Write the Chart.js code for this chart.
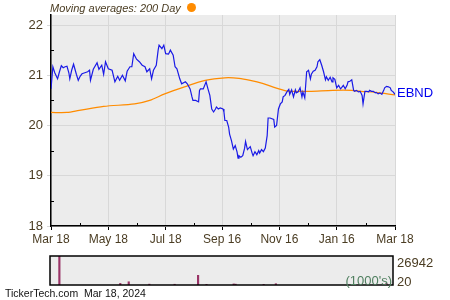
<!DOCTYPE html>
<html>
<head>
<meta charset="utf-8">
<script src="https://cdn.jsdelivr.net/npm/chart.js@4.4.1/dist/chart.umd.min.js"></script>
<style>
  body { margin: 0; background: #fff; font-family: "Liberation Sans", Arial, sans-serif; }
  #wrap { position: relative; width: 450px; height: 300px; }
  #mainChart { position: absolute; left: 0; top: 0; }
  #volChart { position: absolute; left: 0; top: 250px; }
  .title { position: absolute; left: 50px; top: 2px; font-size: 11px; font-style: italic; color: #4a3c22; }
  .dot { position: absolute; left: 187px; top: 3px; width: 9px; height: 9px; border-radius: 50%; background: #ff8c00; }
  .footer { position: absolute; left: 5px; top: 287px; font-size: 10.5px; color: #111; }
</style>
</head>
<body>
<div id="wrap">
  <canvas id="mainChart" width="450" height="250"></canvas>
  <canvas id="volChart" width="450" height="50"></canvas>
  <div class="title">Moving averages: 200 Day</div>
  <div class="dot"></div>
  <div class="footer">TickerTech.com&nbsp; Mar 18, 2024</div>
</div>
<script>
// x positions are calendar days since Mar 18
const tickDays = [0, 61, 122, 182, 243, 304, 366];
const tickLabels = ['Mar 18', 'May 18', 'Jul 18', 'Sep 16', 'Nov 16', 'Jan 16', 'Mar 18'];
const yTicks = [18, 19, 20, 21, 22];

const priceDays = [
  0,2,4,7,9,11,13,15,17,19,
  20,22,24,27,29,31,33,36,39,41,
  42,45,49,51,54,56,58,61,65,68,
  71,73,76,79,81,84,86,88,91,94,
  97,100,102,105,107,109,112,114,115,118,
  120,122,125,127,130,132,134,137,139,143,
  145,148,150,151,154,157,158,159,162,165,
  167,169,171,173,175,176,178,180,183,184,
  185,187,189,190,192,194,196,198,199,200,
  202,204,206,207,209,212,214,215,217,219,
  221,222,224,226,228,230,231,233,237,238,
  240,242,244,246,247,249,251,253,254,256,
  258,260,261,263,265,267,268,270,272,274,
  276,277,279,281,283,284,286,288,290,292,
  293,295,297,299,300,302,304,306,308,309,
  311,313,315,316,318,320,322,323,325,327,
  329,331,332,334,336,338,339,341,343,345,
  346,348,350,352,354,355,357,359,361,362,
  364,366
];
const priceVals = [
  20.73,21.17,21.05,20.93,21.07,21.19,21.15,21.17,21.18,21.05,
  20.93,21.10,21.22,21.02,20.90,20.98,21.03,21.05,21.07,21.10,
  20.90,21.12,21.25,21.12,21.20,21.02,21.27,21.13,21.10,20.87,
  20.98,20.90,21.00,20.89,21.08,21.17,21.17,21.43,21.32,21.27,
  21.20,21.17,21.07,21.13,20.93,21.10,21.20,21.50,21.60,21.53,
  21.60,21.43,21.42,21.50,21.40,21.17,21.13,20.93,20.83,20.87,
  20.83,20.73,20.57,20.50,20.50,20.47,20.70,20.73,20.73,20.87,
  20.73,20.60,20.33,20.27,20.33,20.37,20.33,20.35,20.33,20.27,
  20.10,20.10,19.97,19.83,19.70,19.53,19.60,19.47,19.35,19.40,
  19.37,19.40,19.55,19.68,19.52,19.58,19.45,19.40,19.48,19.42,
  19.50,19.45,19.52,19.48,19.55,19.80,20.15,20.15,20.12,19.97,
  20.00,20.33,20.43,20.47,20.57,20.60,20.67,20.72,20.62,20.71,
  20.57,20.71,20.65,20.67,20.75,20.57,20.67,20.55,21.07,21.10,
  20.93,21.02,21.08,21.10,21.17,21.27,21.31,21.20,21.07,20.91,
  20.97,20.90,20.96,20.87,20.95,20.92,20.75,20.80,20.73,20.75,
  20.80,20.73,20.80,20.87,20.88,20.91,20.70,20.68,20.70,20.67,
  20.68,20.60,20.43,20.68,20.68,20.67,20.70,20.68,20.68,20.65,
  20.66,20.63,20.65,20.62,20.70,20.75,20.78,20.77,20.75,20.70,
  20.67,20.62
];

const maDays = [0, 17, 30, 56, 89, 105, 121, 142, 164, 185, 200, 212, 225, 239, 250, 255, 275, 300, 320, 330, 345, 366];
const maVals = [20.26, 20.26, 20.3, 20.38, 20.43, 20.5, 20.63, 20.77, 20.9, 20.95, 20.94, 20.9, 20.84, 20.75, 20.69, 20.68, 20.68, 20.7, 20.7, 20.68, 20.66, 20.61];

// volume in thousands
const volDays = [10, 75, 84, 106, 133, 158, 167, 196, 198, 228, 241, 359];
const volVals = [26942, 1500, 3000, 800, 700, 9000, 600, 1000, 800, 600, 1200, 1500];
const volMin = 20;

const tickColor = '#4a3c22';
const symbol = 'EBND';

const plotBg = {
    id: 'plotBg',
    beforeDraw(chart) {
        const a = chart.chartArea, c = chart.ctx;
        c.save();
        c.fillStyle = '#ececec';
        c.fillRect(a.left, a.top, a.right - a.left, a.bottom - a.top);
        c.restore();
    }
};

// small inside ticks between the labelled ones, plus the symbol label
const mainExtras = {
    id: 'mainExtras',
    afterDraw(chart) {
        const c = chart.ctx, x = chart.scales.x, y = chart.scales.y, a = chart.chartArea;
        c.save();
        c.strokeStyle = '#000';
        c.lineWidth = 1;
        yTicks.slice(0, -1).forEach(v => {
            const py = Math.round(y.getPixelForValue(v + 0.5)) + 0.5;
            c.beginPath(); c.moveTo(a.left, py); c.lineTo(a.left + 3, py); c.stroke();
        });
        for (let i = 0; i < tickDays.length - 1; i++) {
            const px = Math.round(x.getPixelForValue((tickDays[i] + tickDays[i + 1]) / 2)) + 0.5;
            c.beginPath(); c.moveTo(px, a.bottom); c.lineTo(px, a.bottom - 3); c.stroke();
        }
        const last = priceVals[priceVals.length - 1];
        c.fillStyle = '#0000ee';
        c.font = '13px "Liberation Sans", Arial, sans-serif';
        c.textBaseline = 'middle';
        c.fillText(symbol, a.right + 2, y.getPixelForValue(last) - 1);
        c.restore();
    }
};

new Chart(document.getElementById('mainChart'), {
    type: 'line',
    data: {
        datasets: [{
            data: priceDays.map((d, i) => ({ x: d, y: priceVals[i] })),
            borderColor: '#1a1ae6',
            borderWidth: 1.2,
            pointRadius: 0,
            tension: 0
        }, {
            data: maDays.map((d, i) => ({ x: d, y: maVals[i] })),
            borderColor: '#ff8c00',
            borderWidth: 1.2,
            pointRadius: 0,
            tension: 0.3
        }]
    },
    options: {
        responsive: false,
        animation: false,
        layout: { padding: { left: 0, right: 55, top: 15, bottom: 0 } },
        plugins: { legend: { display: false }, tooltip: { enabled: false } },
        scales: {
            x: {
                type: 'linear',
                min: 0,
                max: 366,
                afterBuildTicks: axis => { axis.ticks = tickDays.map(v => ({ value: v })); },
                afterFit: axis => { axis.height = 24; },
                ticks: {
                    autoSkip: false,
                    maxRotation: 0,
                    padding: 2,
                    color: tickColor,
                    font: { size: 12, family: '"Liberation Sans", Arial, sans-serif' },
                    callback: (v, i) => tickLabels[i]
                },
                grid: { color: '#d8d8d8', tickColor: '#000', tickLength: 4 },
                border: { color: '#000', width: 1.5 }
            },
            y: {
                min: 18,
                max: 22.2,
                afterBuildTicks: axis => { axis.ticks = yTicks.map(v => ({ value: v })); },
                afterFit: axis => { axis.width = 51; },
                ticks: {
                    padding: 4,
                    color: tickColor,
                    font: { size: 13, family: '"Liberation Sans", Arial, sans-serif' }
                },
                grid: { color: '#d8d8d8', tickColor: '#d8d8d8', tickLength: 4 },
                border: { color: '#000', width: 1.5 }
            }
        }
    },
    plugins: [plotBg, mainExtras]
});

const volExtras = {
    id: 'volExtras',
    afterDraw(chart) {
        const c = chart.ctx, a = chart.chartArea;
        c.save();
        c.strokeStyle = '#000';
        c.lineWidth = 1.5;
        c.strokeRect(a.left, a.top, a.right - a.left, a.bottom - a.top);
        c.font = '13px "Liberation Sans", Arial, sans-serif';
        c.textBaseline = 'middle';
        c.fillStyle = tickColor;
        c.fillText(String(Math.max(...volVals)), a.right + 4, a.top + 7);
        c.fillText(String(volMin), a.right + 4, a.bottom - 3);
        c.fillStyle = '#4f7f5f';
        c.textAlign = 'right';
        c.fillText("(1000's)", a.right - 1, a.bottom - 4);
        c.restore();
    }
};

new Chart(document.getElementById('volChart'), {
    type: 'bar',
    data: {
        datasets: [{
            data: volDays.map((d, i) => ({ x: d, y: volVals[i] })),
            backgroundColor: '#993366',
            barThickness: 1.5
        }]
    },
    options: {
        responsive: false,
        animation: false,
        layout: { padding: { left: 50, right: 57, top: 6, bottom: 15 } },
        plugins: { legend: { display: false }, tooltip: { enabled: false } },
        scales: {
            x: { type: 'linear', min: 0, max: 366, offset: false, display: false },
            y: { min: 0, max: Math.max(...volVals), display: false }
        }
    },
    plugins: [plotBg, volExtras]
});
</script>
</body>
</html>
